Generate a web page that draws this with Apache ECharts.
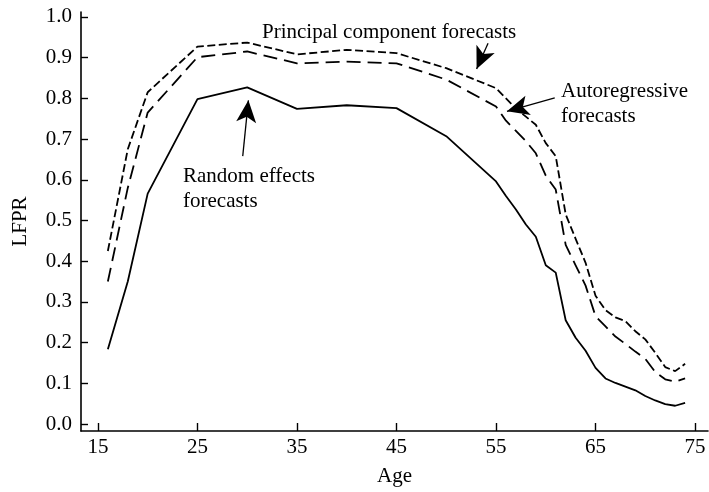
<!DOCTYPE html>
<html>
<head>
<meta charset="utf-8">
<script src="https://cdn.jsdelivr.net/npm/echarts@6/dist/echarts.min.js"></script>
<style>
  html, body { margin: 0; padding: 0; background: #fff; }
  #main { width: 709px; height: 492px; }
</style>
</head>
<body>
<div id="main"></div>
<script>
// ages where the curves are sampled
const ages = [16, 18, 20, 25, 30, 35, 40, 45, 50, 55, 56, 57, 58, 59, 60,
              61, 62, 63, 64, 65, 66, 67, 68, 69, 70, 71, 72, 73, 74];

// Random effects forecasts (solid)
const randomEffects = [0.184, 0.35, 0.566, 0.798, 0.827, 0.774, 0.783, 0.776, 0.707, 0.596, 0.56,
                       0.527, 0.49, 0.46, 0.39, 0.372, 0.255, 0.212, 0.18, 0.138, 0.112, 0.101,
                       0.092, 0.083, 0.069, 0.058, 0.049, 0.045, 0.052];

// Principal component forecasts (short dash)
const principalComp = [0.425, 0.675, 0.815, 0.927, 0.937, 0.908, 0.919, 0.911, 0.874, 0.825, 0.8,
                       0.775, 0.755, 0.735, 0.69, 0.658, 0.515, 0.455, 0.396, 0.315, 0.28, 0.262,
                       0.253, 0.228, 0.208, 0.175, 0.14, 0.13, 0.148];

// Autoregressive forecasts (long dash)
const autoregressive = [0.35, 0.58, 0.765, 0.901, 0.915, 0.886, 0.89, 0.886, 0.846, 0.78, 0.745,
                        0.72, 0.695, 0.665, 0.61, 0.576, 0.44, 0.39, 0.34, 0.265, 0.24, 0.215,
                        0.197, 0.178, 0.16, 0.128, 0.11, 0.104, 0.112];

const xTicks = [15, 25, 35, 45, 55, 65, 75];
const yTicks = [0, 0.1, 0.2, 0.3, 0.4, 0.5, 0.6, 0.7, 0.8, 0.9, 1.0];

// arrows: [from, to] in data coordinates (age, LFPR)
const arrows = [
  [[54.2, 0.935], [53.05, 0.872]],
  [[60.9, 0.801], [56.1, 0.768]],
  [[29.55, 0.658], [30.12, 0.795]]
];

const FONT = 'Liberation Serif';
const FS = 21;

function pairs(vals) {
  return ages.map((a, i) => [a, vals[i]]);
}

const chart = echarts.init(document.getElementById('main'));

const axisCommon = {
  axisLine: { show: true, onZero: false, lineStyle: { color: '#000', width: 1.6 } },
  splitLine: { show: false },
  nameTextStyle: { fontFamily: FONT, fontSize: FS, color: '#000' }
};

let option = {
  backgroundColor: '#fff',
  animation: false,
  grid: { left: 81, right: 1, top: 12, bottom: 60 },
  xAxis: Object.assign({}, axisCommon, {
    type: 'value',
    min: 13.3,
    max: 76.3,
    name: 'Age',
    nameLocation: 'middle',
    nameGap: 35,
    axisTick: { show: true, inside: true, length: 8, customValues: xTicks,
                lineStyle: { color: '#000', width: 1.4 } },
    axisLabel: { customValues: xTicks, margin: 6, fontFamily: FONT, fontSize: FS, color: '#000' }
  }),
  yAxis: Object.assign({}, axisCommon, {
    type: 'value',
    min: -0.017,
    max: 1.012,
    name: 'LFPR',
    nameLocation: 'middle',
    nameRotate: 90,
    nameGap: 50,
    axisTick: { show: true, inside: true, length: 7, customValues: yTicks,
                lineStyle: { color: '#000', width: 1.4 } },
    axisLabel: { customValues: yTicks, margin: 9, fontFamily: FONT, fontSize: FS, color: '#000',
                 formatter: v => v.toFixed(1) }
  }),
  series: [
    {
      name: 'Random effects forecasts',
      type: 'line',
      data: pairs(randomEffects),
      showSymbol: false,
      lineStyle: { color: '#000', width: 1.8, type: 'solid' },
      markLine: {
        silent: true,
        symbol: ['none', 'arrow'],
        symbolSize: [15, 22],
        label: { show: false },
        lineStyle: { color: '#000', width: 1.3, type: 'solid' },
        data: arrows.map(a => [{ coord: a[0] }, { coord: a[1] }])
      }
    },
    {
      name: 'Principal component forecasts',
      type: 'line',
      data: pairs(principalComp),
      showSymbol: false,
      lineStyle: { color: '#000', width: 1.8, type: [8, 3.5] }
    },
    {
      name: 'Autoregressive forecasts',
      type: 'line',
      data: pairs(autoregressive),
      showSymbol: false,
      lineStyle: { color: '#000', width: 1.8, type: [14, 7] }
    }
  ],
  graphic: [
    { type: 'text', x: 262, y: 32, style: { text: 'Principal component forecasts', font: FS + 'px ' + FONT, fill: '#000', verticalAlign: 'middle' } },
    { type: 'text', x: 561, y: 91, style: { text: 'Autoregressive', font: FS + 'px ' + FONT, fill: '#000', verticalAlign: 'middle' } },
    { type: 'text', x: 561, y: 116, style: { text: 'forecasts', font: FS + 'px ' + FONT, fill: '#000', verticalAlign: 'middle' } },
    { type: 'text', x: 183, y: 176, style: { text: 'Random effects', font: FS + 'px ' + FONT, fill: '#000', verticalAlign: 'middle' } },
    { type: 'text', x: 183, y: 201, style: { text: 'forecasts', font: FS + 'px ' + FONT, fill: '#000', verticalAlign: 'middle' } }
  ]
};

chart.setOption(option);
</script>
</body>
</html>
